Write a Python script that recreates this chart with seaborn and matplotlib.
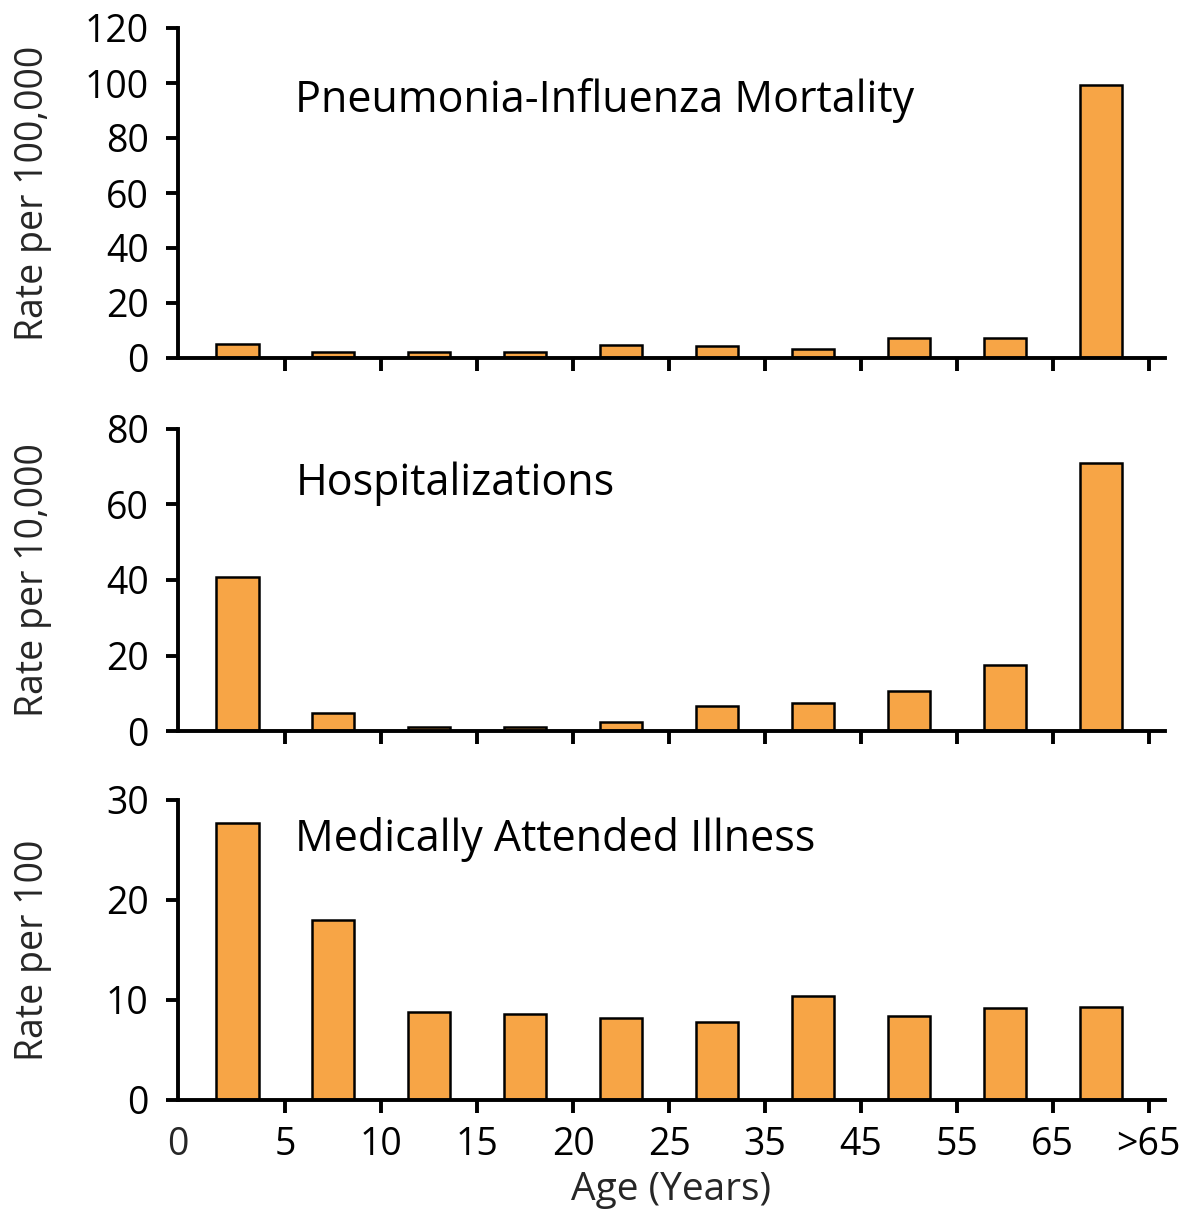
import matplotlib
matplotlib.use("Agg")
import matplotlib.pyplot as plt
import seaborn as sns
import pandas as pd

# ---- data ----
age_groups = ["0-4", "5-9", "10-14", "15-19", "20-24", "25-34", "35-44", "45-54", "55-64", ">65"]
mortality = [5.1, 2.2, 2.2, 2.2, 4.9, 4.5, 3.2, 7.3, 7.4, 99.4]
hospitalizations = [40.8, 4.7, 1.0, 1.0, 2.5, 6.7, 7.5, 10.7, 17.4, 71.0]
illness = [27.7, 18.0, 8.8, 8.6, 8.2, 7.8, 10.4, 8.4, 9.2, 9.3]
x_tick_labels = ["5", "10", "15", "20", "25", "35", "45", "55", "65", ">65"]
panel_titles = ["Pneumonia-Influenza Mortality", "Hospitalizations", "Medically Attended Illness"]
y_labels = ["Rate per 100,000", "Rate per 10,000", "Rate per 100"]
y_ticks = [[0, 20, 40, 60, 80, 100, 120], [0, 20, 40, 60, 80], [0, 10, 20, 30]]
x_label = "Age (Years)"

sns.set_style("white")
plt.rcParams["font.family"] = ["Open Sans", "DejaVu Sans"]

fig = plt.figure(figsize=(11.86, 12.10), dpi=100)
W, H = 1186, 1210
left, right = 178, 1165
panels = [(28, 358), (429, 731), (800, 1100)]
series = [mortality, hospitalizations, illness]
bar_color = "#F7A546"
tick_fs = 27
title_fs = 31
label_fs = 27

for i, ((top, bottom), vals) in enumerate(zip(panels, series)):
    ax = fig.add_axes([left / W, 1 - bottom / H, (right - left) / W, (bottom - top) / H])
    df = pd.DataFrame({"age": age_groups, "rate": vals})
    sns.barplot(data=df, x="age", y="rate", ax=ax, color=bar_color, width=0.44,
                edgecolor="black", linewidth=1.8, saturation=1)
    ax.set_xlim(-0.62, 9.67)
    ax.set_ylim(0, y_ticks[i][-1])
    ax.set_yticks(y_ticks[i])
    ax.set_yticklabels([str(v) for v in y_ticks[i]], fontsize=tick_fs)
    ax.set_xticks([k + 0.5 for k in range(10)])
    sns.despine(ax=ax)
    for s in ["left", "bottom"]:
        ax.spines[s].set_linewidth(2.8)
        ax.spines[s].set_color("black")
    ax.tick_params(axis="y", direction="out", length=9, width=2.8, pad=12, left=True, colors="black")
    ax.tick_params(axis="x", direction="out", length=9, width=2.8, pad=10, bottom=True, colors="black")
    if i == 2:
        ax.set_xticklabels(x_tick_labels, fontsize=tick_fs)
        ax.set_xticks([-0.62], minor=True)
        ax.set_xticklabels(["0"], minor=True, fontsize=tick_fs)
        ax.tick_params(axis="x", which="minor", length=0, pad=19)
        ax.set_xlabel(x_label, fontsize=28, labelpad=5)
    else:
        ax.set_xticklabels([])
        ax.set_xlabel("")
    ax.set_ylabel(y_labels[i], fontsize=label_fs)
    ax.yaxis.set_label_coords(-0.128, 0.5)
    ax.text(0.119, 0.78 if i == 0 else (0.82 if i == 1 else 0.87), panel_titles[i],
            transform=ax.transAxes, fontsize=title_fs, va="center", ha="left", color="black")

fig.savefig("out.png", dpi=100, facecolor="white")
